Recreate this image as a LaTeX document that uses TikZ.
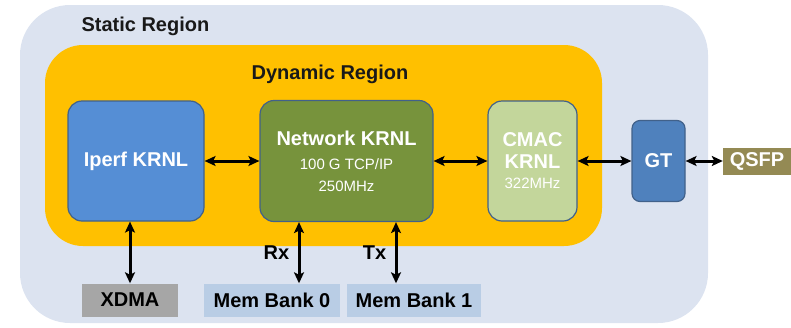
\documentclass[tikz,border=0pt]{standalone}
\usepackage{fontspec}
\setmainfont{Liberation Sans}
\usetikzlibrary{arrows.meta}
\definecolor{staticbg}{HTML}{DCE3F0}
\definecolor{dynbg}{HTML}{FFC000}
\definecolor{iperfc}{HTML}{558ED5}
\definecolor{netc}{HTML}{77933C}
\definecolor{cmacc}{HTML}{C3D69B}
\definecolor{gtc}{HTML}{4F81BD}
\definecolor{qsfpc}{HTML}{948A54}
\definecolor{xdmac}{HTML}{A6A6A6}
\definecolor{memc}{HTML}{B9CDE5}
\definecolor{krnlline}{HTML}{41618A}
\tikzset{>={Stealth[length=11pt,width=10pt,inset=2.5pt]},font=\bfseries\fontsize{20}{22}\selectfont}
\tikzset{krnl/.style={draw=krnlline,line width=1.2pt,rounded corners=14pt,text=white,align=center,inner sep=0pt}}
\tikzset{ext/.style={inner sep=0pt,minimum height=33pt}}
\tikzset{link/.style={line width=3pt}}
\newcommand{\subtxt}{\mdseries\fontsize{15}{17}\selectfont}

\begin{document}
\begin{tikzpicture}[x=1pt,y=-1pt]
\useasboundingbox (0,0) rectangle (791,327);
\node[fill=staticbg,rounded corners=50pt,inner sep=0pt,minimum width=688pt,minimum height=318pt] (S) at (364,164) {};
\node[fill=dynbg,rounded corners=38pt,inner sep=0pt,minimum width=557pt,minimum height=201pt] (D) at (323.5,145.5) {};
\node[anchor=west,text=black!90] (Slbl) at (78,26) {Static Region};
\node[text=black!90] (Dlbl) at (330,74) {Dynamic Region};
\node[krnl,fill=iperfc,minimum width=136pt,minimum height=120pt] (I) at (136,161) {Iperf KRNL};
\node[krnl,fill=netc,minimum width=173pt,minimum height=121pt] (N) at (346.5,161) {Network KRNL\\[2pt]{\subtxt 100 G TCP/IP}\\{\subtxt 250MHz}};
\node[krnl,fill=cmacc,minimum width=89pt,minimum height=120pt] (C) at (532.5,161) {CMAC\\KRNL\\[-2pt]{\subtxt 322MHz}};
\node[krnl,fill=gtc,rounded corners=8pt,minimum width=53pt,minimum height=81pt] (G) at (658.5,161) {GT};
\node[fill=qsfpc,text=white,inner sep=0pt,minimum width=68pt,minimum height=27pt] (Q) at (757,161) {QSFP};
\node[ext,fill=xdmac,minimum width=96pt] (X) at (130,300) {XDMA};
\node[ext,fill=memc,minimum width=136pt] (M0) at (272,300) {Mem Bank 0};
\node[ext,fill=memc,minimum width=134pt] (M1) at (414,300) {Mem Bank 1};
\path[<->,link] (I) edge (N);
\path[<->,link] (N) edge (C);
\path[<->,link] (C) edge (G);
\path[<->,link] (G) edge (Q);
\path[<->,link] (I.south -| X.north) edge (X.north);
\coordinate (rx) at (299,0);
\coordinate (tx) at (396,0);
\path[<->,link] (N.south -| rx) edge node[left=5pt] (Rx) {Rx} (M0.north -| rx);
\path[<->,link] (N.south -| tx) edge node[left=5pt] (Tx) {Tx} (M1.north -| tx);
\end{tikzpicture}
\end{document}
